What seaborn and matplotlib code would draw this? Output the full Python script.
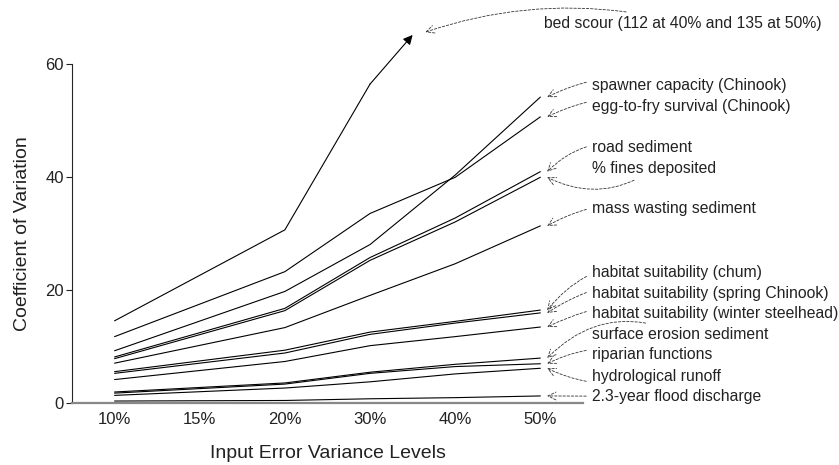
import numpy as np
import pandas as pd
import matplotlib
matplotlib.use("Agg")
import matplotlib.pyplot as plt
import seaborn as sns

levels = ["10%", "15%", "20%", "30%", "40%", "50%"]
measured = ["10%", "20%", "30%", "40%", "50%"]

bed_scour = [14.6, 30.7, 56.5, 112, 135]
spawner_capacity = [9.3, 19.8, 28.1, 40.4, 54.2]
egg_to_fry = [11.8, 23.3, 33.6, 40.0, 50.7]
road_sediment = [8.2, 16.8, 25.8, 32.8, 41.0]
fines_deposited = [7.9, 16.4, 25.3, 32.1, 40.0]
mass_wasting = [7.1, 13.4, 19.1, 24.7, 31.4]
hab_chum = [5.6, 9.4, 12.6, 14.5, 16.5]
hab_spring = [5.3, 8.9, 12.2, 14.2, 16.0]
hab_winter = [4.2, 7.4, 10.2, 11.8, 13.5]
surface_erosion = [2.0, 3.6, 5.5, 6.9, 8.0]
riparian = [1.8, 3.4, 5.3, 6.5, 7.0]
hydro_runoff = [1.4, 2.7, 3.8, 5.2, 6.2]
flood_discharge = [0.4, 0.5, 0.8, 1.0, 1.3]

series = {
    "bed scour (%d at 40%% and %d at 50%%)" % (bed_scour[3], bed_scour[4]): bed_scour,
    "spawner capacity (Chinook)": spawner_capacity,
    "egg-to-fry survival (Chinook)": egg_to_fry,
    "road sediment": road_sediment,
    "% fines deposited": fines_deposited,
    "mass wasting sediment": mass_wasting,
    "habitat suitability (chum)": hab_chum,
    "habitat suitability (spring Chinook)": hab_spring,
    "habitat suitability (winter steelhead)": hab_winter,
    "surface erosion sediment": surface_erosion,
    "riparian functions": riparian,
    "hydrological runoff": hydro_runoff,
    "2.3-year flood discharge": flood_discharge,
}

# label placement (y in data units) and arrow curvature
label_y = [67.3, 56.3, 52.6, 45.2, 41.6, 34.4, 23.1, 19.5, 15.9, 12.2, 8.6, 4.8, 1.2]
label_rad = [0.15, 0.2, 0.2, 0.3, -0.3, 0.2, 0.35, 0.25, 0.2, 0.35, 0.2, -0.2, 0.0]

ymax = 60
rows = []
for name, vals in series.items():
    for lev, v in zip(measured, vals):
        if v <= ymax:
            rows.append({"series": name, "pos": levels.index(lev), "cv": v})
df = pd.DataFrame(rows)

sns.set_style("ticks")
plt.rcParams["font.family"] = ["Liberation Sans", "DejaVu Sans"]

fig = plt.figure(figsize=(8.39, 4.65), dpi=100)
ax = fig.add_axes([0.0858, 0.1327, 0.609, 0.729])

sns.lineplot(data=df, x="pos", y="cv", units="series", estimator=None,
             color="black", lw=0.8, ax=ax)

ax.set_xlim(-0.5, 5.5)
ax.set_ylim(0, ymax)
ax.set_xticks(range(len(levels)))
ax.set_xticklabels(levels)
ax.set_yticks([0, 20, 40, 60])
ax.tick_params(axis="x", length=0, pad=6, labelsize=12, colors="#222222")
ax.tick_params(axis="y", length=4, width=0.8, pad=2, labelsize=12, colors="#222222")
ax.set_xlabel("Input Error Variance Levels", fontsize=14, labelpad=13, color="#222222")
ax.set_ylabel("Coefficient of Variation", fontsize=14, labelpad=10, color="#222222")
for s in ["top", "right"]:
    ax.spines[s].set_visible(False)
ax.spines["left"].set_linewidth(0.8)
ax.spines["bottom"].set_color("#888888")
ax.spines["bottom"].set_linewidth(1.6)

# bed scour runs off the chart after 30%
bed_pos = levels.index("30%")
ax.annotate("", xy=(bed_pos + 0.5, 65.2), xytext=(bed_pos, bed_scour[2]),
            arrowprops=dict(arrowstyle="-|>", color="black", lw=0.8,
                            mutation_scale=14, shrinkA=0, shrinkB=0),
            annotation_clip=False)

names = list(series.keys())
for i, name in enumerate(names):
    vals = series[name]
    if i == 0:
        tip = (bed_pos + 0.65, 65.7)
        tx = 5.04
    else:
        tip = (len(levels) - 1 + 0.08, vals[-1])
        tx = 5.61
    ax.annotate(name, xy=tip, xytext=(tx, label_y[i]), ha="left", va="center",
                fontsize=11.3, color="#222222", annotation_clip=False,
                arrowprops=dict(arrowstyle="->", color="#333333", lw=0.6,
                                linestyle=(0, (3, 2)), mutation_scale=14,
                                connectionstyle="arc3,rad=%s" % label_rad[i],
                                shrinkA=2, shrinkB=0))

fig.savefig("out.png", dpi=100)
